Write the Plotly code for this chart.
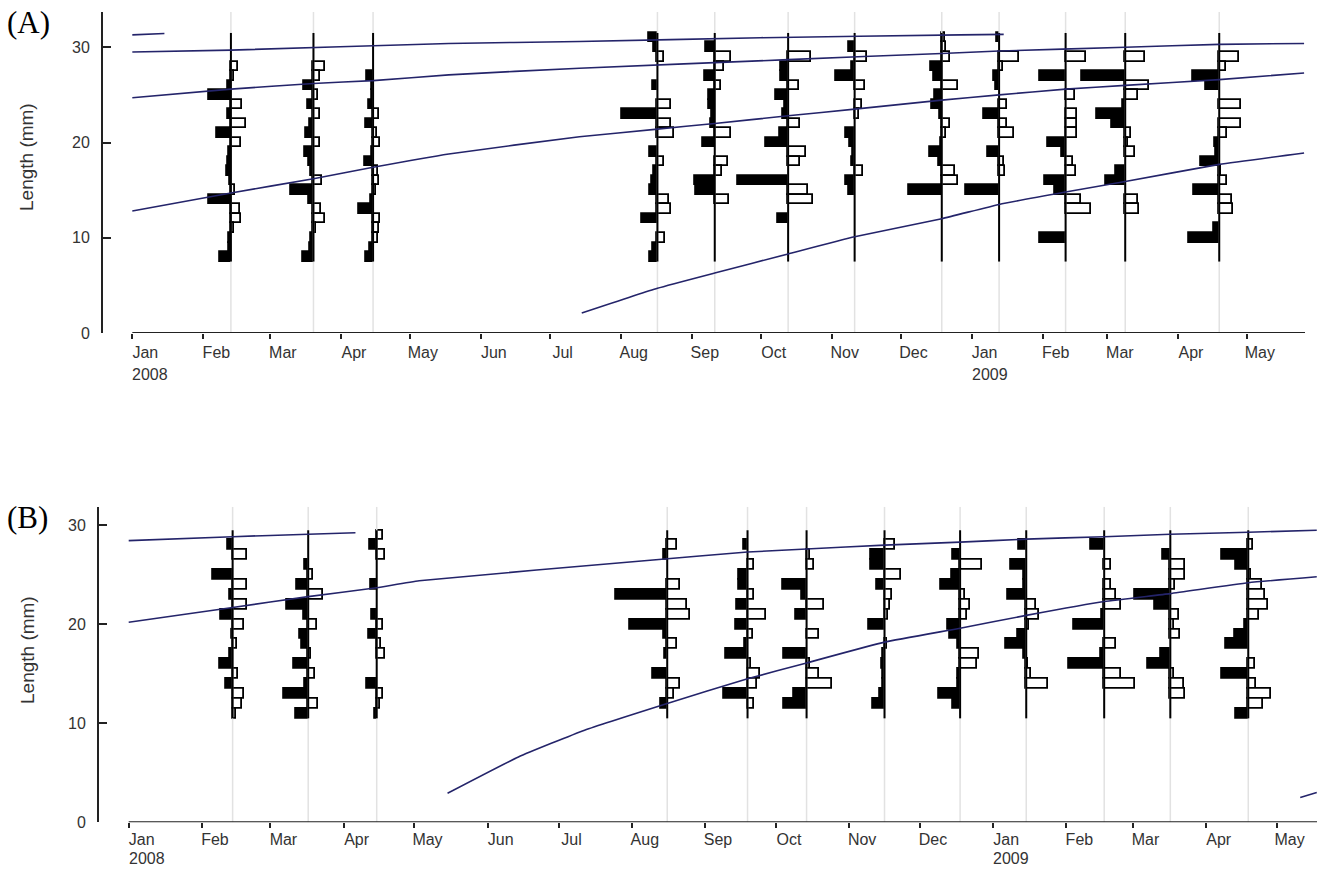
import plotly.graph_objects as go
import pandas as pd

W, H = 1317, 876

# ---------------- tick labels ----------------
MONTH_TICKS = ["2008-01-01", "2008-02-01", "2008-03-01", "2008-04-01", "2008-05-01",
               "2008-06-01", "2008-07-01", "2008-08-01", "2008-09-01", "2008-10-01",
               "2008-11-01", "2008-12-01", "2009-01-01", "2009-02-01", "2009-03-01",
               "2009-04-01", "2009-05-01"]
MONTH_LABELS = ["Jan", "Feb", "Mar", "Apr", "May", "Jun", "Jul", "Aug", "Sep", "Oct",
                "Nov", "Dec", "Jan", "Feb", "Mar", "Apr", "May"]
YEAR_TICKS = ["2008-01-01", "2009-01-01"]
YEAR_LABELS = ["2008", "2009"]
Y_TICKS = [0, 10, 20, 30]

# ---------------- sample dates ----------------
A_DATES = ["2008-02-13", "2008-03-20", "2008-04-15", "2008-08-17", "2008-09-11", "2008-10-13",
           "2008-11-11", "2008-12-19", "2009-01-13", "2009-02-11", "2009-03-09", "2009-04-19"]
B_DATES = ["2008-02-14", "2008-03-17", "2008-04-15", "2008-08-16", "2008-09-19", "2008-10-14",
           "2008-11-16", "2008-12-18", "2009-01-15", "2009-02-17", "2009-03-17", "2009-04-19"]

# length classes (mm), listed top to bottom
A_BINS = list(range(31, 7, -1))
B_BINS = list(range(29, 10, -1))

# restructured frequencies (negative = black, positive = white), panel A, L31..L8
A_S01 = [0, 0, 0, 7, 3, -2.5, -22, 11, -3, 15, -14, 10, -2, -3, -4, -1, 4, -22, 9, 10, 3, -2, -2, -11]
A_S02 = [0, 0, 0, 12, 7, -9, 5, -5, 7, -3, -7, 7, -8, -4, -2, 9, -22, -4, 8, 12, 3, -2, -3, -10]
A_S03 = [0, 0, 0, 0, -6, -1, -1, -4, 6, -7, 4, 7, -1, -8, 5, 6, 3, -2, -14, 7, 6, 5, -3, -7]
A_S04 = [-8, -3, 7, 0, 0, -4, 0, 14, -35, 14, 17, 0, -7, 7, -3, -5, -7, 12, 14, -15, 0, 8, -4, -7]
A_S05 = [0, -9, 16, 9, -10, 6, -6, -6, -3, -4, 16, -12, 0, 13, 7, -20, -19, 14, 0, 0, 0, 0, 0, 0]
A_S06 = [0, 0, 23, -7, -7, 11, -12, -3, -5, 12, -8, -22, 18, 12, 0, -50, 20, 25, 0, -10, 0, 0, 0, 0]
A_S07 = [0, -6, 12, -3, -19, 10, 0, 7, 4, 0, -9, -5, -2, -3, 8, -9, -6, 0, 0, 0, 0, 0, 0, 0]
A_S08 = [3, 4, 8, -11, -8, 16, -7, -10, -2, 8, 4, -1, -12, -3, 13, 16, -33, 0, 0, 0, 0, 0, 0, 0]
A_S09 = [-2, 0, 20, 4, -5, -3, 0, 8, -15, 8, 15, 0, -11, 5, 6, 0, -33, 0, 0, 0, 0, 0, 0, 0]
A_S10 = [0, 0, 20, 0, -26, 0, 9, 0, 11, 11, 11, -18, -4, 7, 10, -21, -11, 15, 25, 0, 0, -26, 0, 0]
A_S11 = [0, 0, 20, 0, -43, 24, 13, -2, -28, -13, 6, 3, 10, 0, -9, -19, 0, 13, 14, 0, 0, 0, 0, 0]
A_S12 = [0, 0, 20, 7, -26, -13, 0, 22, 0, 22, 8, -4, -3, -18, 2, 8, -25, 13, 14, 0, -5, -30, 0, 0]

# panel B, L29..L11
B_S01 = [0, -5, 14, 0, -20, 14, -3, 14, -12, 11, -1, 4, -3, -13, 5, -7, 11, 9, 3]
B_S02 = [0, 0, 0, -3, 5, -11, 15, -21, -4, 9, -8, -6, 3, -14, 7, -3, -24, 10, -12]
B_S03 = [6, -7, 8, 0, 0, -6, 0, 0, -5, 6, -8, 4, 8, 0, 0, -10, 6, 3, -2]
B_S04 = [0, 10, -3, 0, 0, 13, -51, 20, 23, -37, -3, 10, -2, 0, -14, 13, 7, -6, 0]
B_S05 = [0, -4, 0, 6, -9, -9, 6, -11, 18, -12, 5, -3, -22, 3, 12, 9, -24, 6, 0]
B_S06 = [0, 0, 3, 7, 0, -24, -5, 17, -11, 0, 12, 0, -23, 3, 12, 25, -13, -23, 0]
B_S07 = [0, 10, -14, -14, 16, -8, 7, 5, 3, -16, 0, 2, -2, -3, -2, -2, -5, -12, 0]
B_S08 = [0, 0, -7, 22, -8, -19, 5, 10, 7, -12, -10, -2, 19, 17, -2, -2, -21, -7, 0]
B_S09 = [0, -7, 0, -15, -2, -2, -18, 10, 13, 3, -8, -20, -2, 2, 5, 22, 0, 0, 0]
B_S10 = [0, -13, 0, 7, 0, 7, 12, 17, -2, -30, 0, 12, -3, -35, 17, 31, 0, 0, 0]
B_S11 = [0, 0, -7, 15, 15, 5, -35, -15, 9, 4, 10, 0, -9, -22, 4, 14, 15, 0, 0]
B_S12 = [0, 5, -26, -12, 3, 14, 17, 20, 11, -3, -13, -22, 0, 7, -26, 8, 23, 15, -12]

# ---------------- growth curves ----------------
A_C0_D = ["2008-01-01", "2008-01-15"]
A_C0_L = [31.3, 31.45]
A_C1_D = ["2008-01-01", "2008-02-13", "2008-05-18", "2008-07-14", "2008-10-01", "2008-12-27", "2009-01-15"]
A_C1_L = [29.5, 29.7, 30.4, 30.6, 31.0, 31.3, 31.35]
A_C2_D = ["2008-01-01", "2008-02-13", "2008-03-20", "2008-04-15", "2008-05-18", "2008-07-14",
          "2008-10-13", "2008-12-19", "2009-01-13", "2009-03-09", "2009-04-19", "2009-05-26"]
A_C2_L = [24.7, 25.6, 26.2, 26.5, 27.1, 27.8, 28.7, 29.35, 29.6, 30.0, 30.3, 30.4]
A_C3_D = ["2008-01-01", "2008-02-13", "2008-03-20", "2008-04-15", "2008-05-18", "2008-07-14",
          "2008-08-17", "2008-09-11", "2008-10-13", "2008-11-11", "2008-12-19", "2009-01-13",
          "2009-02-11", "2009-03-09", "2009-04-19", "2009-05-26"]
A_C3_L = [12.8, 14.7, 16.2, 17.4, 18.8, 20.6, 21.4, 22.0, 22.8, 23.5, 24.45, 25.0, 25.6, 26.0, 26.6, 27.3]
A_C4_D = ["2008-07-15", "2008-08-17", "2008-09-11", "2008-10-13", "2008-11-11", "2008-12-19",
          "2009-01-13", "2009-02-11", "2009-03-09", "2009-04-19", "2009-05-26"]
A_C4_L = [2.1, 4.7, 6.3, 8.3, 10.1, 12.0, 13.5, 14.8, 15.9, 17.7, 18.9]

B_C1_D = ["2008-01-01", "2008-02-14", "2008-03-17", "2008-04-06"]
B_C1_L = [28.45, 28.85, 29.1, 29.25]
B_C2_D = ["2008-01-01", "2008-02-14", "2008-03-17", "2008-04-15", "2008-05-03", "2008-08-10",
          "2008-09-19", "2008-10-14", "2008-11-16", "2008-12-18", "2009-01-15", "2009-02-17",
          "2009-03-17", "2009-04-19", "2009-05-18"]
B_C2_L = [20.2, 21.7, 22.8, 23.7, 24.4, 26.5, 27.3, 27.6, 28.0, 28.3, 28.6, 28.85, 29.1, 29.3, 29.5]
B_C3_D = ["2008-05-15", "2008-06-14", "2008-07-12", "2008-08-16", "2008-09-19", "2008-10-14",
          "2008-11-16", "2008-12-18", "2009-01-15", "2009-02-17", "2009-03-17", "2009-04-19", "2009-05-18"]
B_C3_L = [2.93, 6.6, 9.3, 12.0, 14.5, 16.1, 18.2, 19.6, 20.9, 22.3, 23.1, 24.2, 24.8]
B_C4_D = ["2009-05-11", "2009-05-18"]
B_C4_L = [2.5, 3.0]

# ---------------- layout geometry ----------------
A_XDOM = [103 / W, 1305 / W]
A_YDOM = [1 - 333 / H, 1 - 12 / H]
A_XRANGE = ["2007-12-19 05:17", "2009-05-26 09:36"]
A_YRANGE = [0, 33.7]
B_XDOM = [99 / W, 1.0]
B_YDOM = [1 - 822.3 / H, 1 - 506.7 / H]
B_XRANGE = ["2007-12-19 10:15", "2009-05-18 02:24"]
B_YRANGE = [0, 31.88]

CURVE_COLOR = "#24246a"
FONT = "Arial, 'Liberation Sans', sans-serif"
TICKFONT = dict(family=FONT, size=16, color="#333333")
DAY_MS = 86400000.0


def px_per_day(dom, rng):
    span = (pd.Timestamp(rng[1]) - pd.Timestamp(rng[0])).total_seconds() / 86400.0
    return (dom[1] - dom[0]) * W / span


fig = go.Figure()


def add_panel(xa, ya, dates, samples, bins, curves, dom, rng, yrng):
    ppd = px_per_day(dom, rng)
    # light grey sample guides
    gx, gy = [], []
    for d in dates:
        gx += [d, d, None]
        gy += [yrng[0], yrng[1], None]
    fig.add_trace(go.Scatter(x=gx, y=gy, mode="lines", xaxis=xa, yaxis=ya,
                             line=dict(color="#e2e2e2", width=1.5), hoverinfo="skip",
                             showlegend=False))
    # histogram bars
    for sign, fill in ((-1, "black"), (1, "white")):
        by, bb, bx = [], [], []
        for d, vals in zip(dates, samples):
            t = pd.Timestamp(d)
            for L, v in zip(bins, vals):
                if v == 0 or (v > 0) != (sign > 0):
                    continue
                days = abs(v) / ppd
                base = t - pd.Timedelta(days=days) if v < 0 else t
                by.append(L)
                bb.append(base.strftime("%Y-%m-%d %H:%M:%S"))
                bx.append(days * DAY_MS)
        fig.add_trace(go.Bar(y=by, x=bx, base=bb, orientation="h", width=1.0,
                             xaxis=xa, yaxis=ya,
                             marker=dict(color=fill, line=dict(color="black", width=1.8)),
                             hoverinfo="skip", showlegend=False))
    # sample axes (black vertical lines)
    lx, ly = [], []
    for d in dates:
        lx += [d, d, None]
        ly += [bins[-1] - 0.5, bins[0] + 0.5, None]
    fig.add_trace(go.Scatter(x=lx, y=ly, mode="lines", xaxis=xa, yaxis=ya,
                             line=dict(color="black", width=2), hoverinfo="skip",
                             showlegend=False))
    # growth curves
    for cd, cl in curves:
        fig.add_trace(go.Scatter(x=cd, y=cl, mode="lines", xaxis=xa, yaxis=ya,
                                 line=dict(color=CURVE_COLOR, width=1.6, shape="spline",
                                           smoothing=0.4),
                                 hoverinfo="skip", showlegend=False))


add_panel("x", "y", A_DATES,
          [A_S01, A_S02, A_S03, A_S04, A_S05, A_S06, A_S07, A_S08, A_S09, A_S10, A_S11, A_S12],
          A_BINS,
          [(A_C0_D, A_C0_L), (A_C1_D, A_C1_L), (A_C2_D, A_C2_L), (A_C3_D, A_C3_L), (A_C4_D, A_C4_L)],
          A_XDOM, A_XRANGE, A_YRANGE)
add_panel("x2", "y2", B_DATES,
          [B_S01, B_S02, B_S03, B_S04, B_S05, B_S06, B_S07, B_S08, B_S09, B_S10, B_S11, B_S12],
          B_BINS,
          [(B_C1_D, B_C1_L), (B_C2_D, B_C2_L), (B_C3_D, B_C3_L), (B_C4_D, B_C4_L)],
          B_XDOM, B_XRANGE, B_YRANGE)

xcommon = dict(type="date", showline=False, showgrid=False, zeroline=False,
               ticks="outside", ticklen=5, tickwidth=1.5, tickcolor="#222222",
               tickvals=MONTH_TICKS, ticktext=MONTH_LABELS, tickfont=TICKFONT,
               ticklabelshift=13, fixedrange=True)
ycommon = dict(showline=True, linecolor="#222222", linewidth=2, showgrid=False, zeroline=False,
               ticks="inside", ticklen=8, tickwidth=1.5, tickcolor="#222222",
               tickvals=Y_TICKS, tickfont=TICKFONT, ticklabelstandoff=8, fixedrange=True)

annotations = []
shapes = []
for xa, ya, rng, ydom, ysh in (("x", "y", A_XRANGE, A_YDOM, -41), ("x2", "y2", B_XRANGE, B_YDOM, -36)):
    # x axis baseline starting at the first month tick
    shapes.append(dict(type="line", xref=xa, yref=ya, x0=MONTH_TICKS[0], x1=rng[1], y0=0, y1=0,
                       line=dict(color="#222222", width=2), layer="above"))
    for yt, yl in zip(YEAR_TICKS, YEAR_LABELS):
        annotations.append(dict(x=yt, xref=xa, y=ydom[0], yref="paper", yshift=ysh,
                                text=yl, showarrow=False, xanchor="left", yanchor="middle",
                                xshift=-2, font=TICKFONT))

PANEL_FONT = dict(family="'Liberation Serif', 'Times New Roman', serif", size=31, color="black")
annotations += [
    dict(x=5 / W, y=1 - 23 / H, xref="paper", yref="paper", text="(A)", showarrow=False,
         xanchor="left", yanchor="middle", font=PANEL_FONT),
    dict(x=5 / W, y=1 - 517 / H, xref="paper", yref="paper", text="(B)", showarrow=False,
         xanchor="left", yanchor="middle", font=PANEL_FONT),
    dict(x=27 / W, y=1 - 157 / H, xref="paper", yref="paper", text="Length (mm)", showarrow=False,
         textangle=-90, xanchor="center", yanchor="middle",
         font=dict(family=FONT, size=19, color="#333333")),
    dict(x=27 / W, y=1 - 650 / H, xref="paper", yref="paper", text="Length (mm)", showarrow=False,
         textangle=-90, xanchor="center", yanchor="middle",
         font=dict(family=FONT, size=19, color="#333333")),
]

fig.update_layout(
    template="none",
    width=W, height=H, autosize=False,
    margin=dict(l=0, r=0, t=0, b=0),
    paper_bgcolor="white", plot_bgcolor="rgba(0,0,0,0)",
    barmode="overlay", bargap=0,
    showlegend=False,
    xaxis=dict(xcommon, domain=A_XDOM, range=A_XRANGE, anchor="y"),
    yaxis=dict(ycommon, domain=A_YDOM, range=A_YRANGE, anchor="x"),
    xaxis2=dict(xcommon, domain=B_XDOM, range=B_XRANGE, anchor="y2", ticklabelstandoff=-3),
    yaxis2=dict(ycommon, domain=B_YDOM, range=B_YRANGE, anchor="x2"),
    annotations=annotations,
    shapes=shapes,
)

fig.write_html("out.html", config={"displayModeBar": False})
